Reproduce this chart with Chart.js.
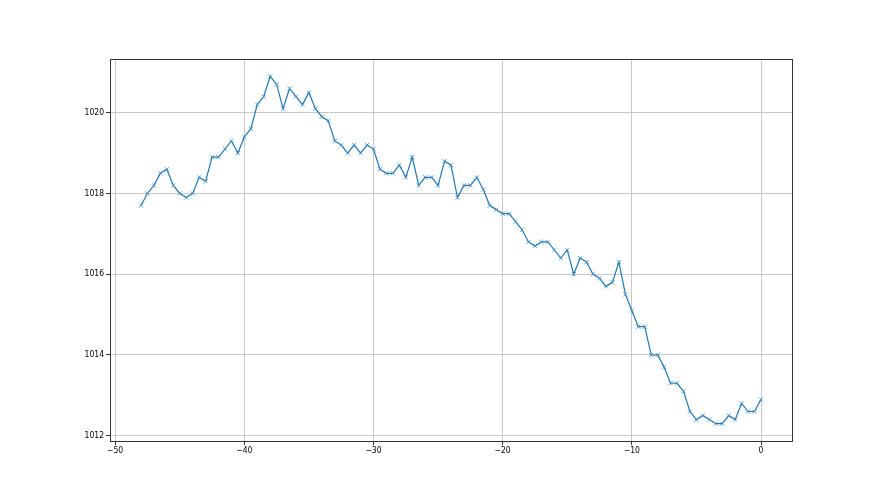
<!DOCTYPE html>
<html>
<head>
<meta charset="utf-8">
<script src="https://cdn.jsdelivr.net/npm/chart.js@4"></script>
<style>
  html, body { margin: 0; padding: 0; background: #fff; }
  #wrap { width: 880px; height: 495px; }
</style>
</head>
<body>
<div id="wrap"><canvas id="pressureChart" width="880" height="495"></canvas></div>
<script>
// hours before now, 0.5 h step
const hours = [
  -48, -47.5, -47, -46.5, -46, -45.5, -45, -44.5, -44, -43.5, -43, -42.5, -42, -41.5, -41, -40.5,
  -40, -39.5, -39, -38.5, -38, -37.5, -37, -36.5, -36, -35.5, -35, -34.5, -34, -33.5, -33, -32.5,
  -32, -31.5, -31, -30.5, -30, -29.5, -29, -28.5, -28, -27.5, -27, -26.5, -26, -25.5, -25, -24.5,
  -24, -23.5, -23, -22.5, -22, -21.5, -21, -20.5, -20, -19.5, -19, -18.5, -18, -17.5, -17, -16.5,
  -16, -15.5, -15, -14.5, -14, -13.5, -13, -12.5, -12, -11.5, -11, -10.5, -10, -9.5, -9, -8.5,
  -8, -7.5, -7, -6.5, -6, -5.5, -5, -4.5, -4, -3.5, -3, -2.5, -2, -1.5, -1, -0.5, 0
];
const pressure = [
  1017.7, 1018.0, 1018.2, 1018.5, 1018.6, 1018.2, 1018.0, 1017.9, 1018.0, 1018.4, 1018.3, 1018.9, 1018.9, 1019.1, 1019.3, 1019.0,
  1019.4, 1019.6, 1020.2, 1020.4, 1020.9, 1020.7, 1020.1, 1020.6, 1020.4, 1020.2, 1020.5, 1020.1, 1019.9, 1019.8, 1019.3, 1019.2,
  1019.0, 1019.2, 1019.0, 1019.2, 1019.1, 1018.6, 1018.5, 1018.5, 1018.7, 1018.4, 1018.9, 1018.2, 1018.4, 1018.4, 1018.2, 1018.8,
  1018.7, 1017.9, 1018.2, 1018.2, 1018.4, 1018.1, 1017.7, 1017.6, 1017.5, 1017.5, 1017.3, 1017.1, 1016.8, 1016.7, 1016.8, 1016.8,
  1016.6, 1016.4, 1016.6, 1016.0, 1016.4, 1016.3, 1016.0, 1015.9, 1015.7, 1015.8, 1016.3, 1015.5, 1015.1, 1014.7, 1014.7, 1014.0,
  1014.0, 1013.7, 1013.3, 1013.3, 1013.1, 1012.6, 1012.4, 1012.5, 1012.4, 1012.3, 1012.3, 1012.5, 1012.4, 1012.8, 1012.6, 1012.6, 1012.9
];
const xTicks = [-50, -40, -30, -20, -10, 0];
const yTicks = [1012, 1014, 1016, 1018, 1020];

const tickFont = { family: 'DejaVu Sans Condensed', size: 8.5 };
const fmt = v => String(v).replace('-', '\u2212');

// black frame around the plot area, like matplotlib spines
const frame = {
  id: 'frame',
  afterDraw(chart) {
    const a = chart.chartArea;
    const c = chart.ctx;
    c.save();
    c.strokeStyle = '#333';
    c.lineWidth = 1;
    c.strokeRect(Math.round(a.left) + 0.5, Math.round(a.top) + 0.5,
      Math.round(a.right - a.left), Math.round(a.bottom - a.top));
    c.restore();
  }
};

new Chart(document.getElementById('pressureChart'), {
  type: 'scatter',
  data: {
    datasets: [{
      data: hours.map((h, i) => ({ x: h, y: pressure[i] })),
      showLine: true,
      borderColor: '#1f77b4',
      borderWidth: 1.2,
      pointStyle: 'crossRot',
      pointRadius: 3,
      pointBorderColor: '#3d8bc4',
      pointBorderWidth: 0.8,
      pointHoverRadius: 3
    }]
  },
  options: {
    responsive: false,
    animation: false,
    events: [],
    layout: { padding: { left: 0, top: 59, right: 88, bottom: 0 } },
    plugins: { legend: { display: false }, tooltip: { enabled: false } },
    scales: {
      x: {
        type: 'linear',
        min: -50.4,
        max: 2.4,
        afterFit(s) { s.height = 54; },
        afterBuildTicks(s) { s.ticks = xTicks.map(v => ({ value: v })); },
        ticks: { font: tickFont, color: '#000', padding: 1, maxRotation: 0, callback: fmt },
        grid: { color: '#c8c8c8', lineWidth: 1, tickColor: '#333', tickLength: 4 },
        border: { display: false }
      },
      y: {
        min: 1011.87,
        max: 1021.33,
        afterFit(s) { s.width = 110; },
        afterBuildTicks(s) { s.ticks = yTicks.map(v => ({ value: v })); },
        ticks: { font: tickFont, color: '#000', padding: 2, callback: fmt },
        grid: { color: '#c8c8c8', lineWidth: 1, tickColor: '#333', tickLength: 4 },
        border: { display: false }
      }
    }
  },
  plugins: [frame]
});
</script>
</body>
</html>
